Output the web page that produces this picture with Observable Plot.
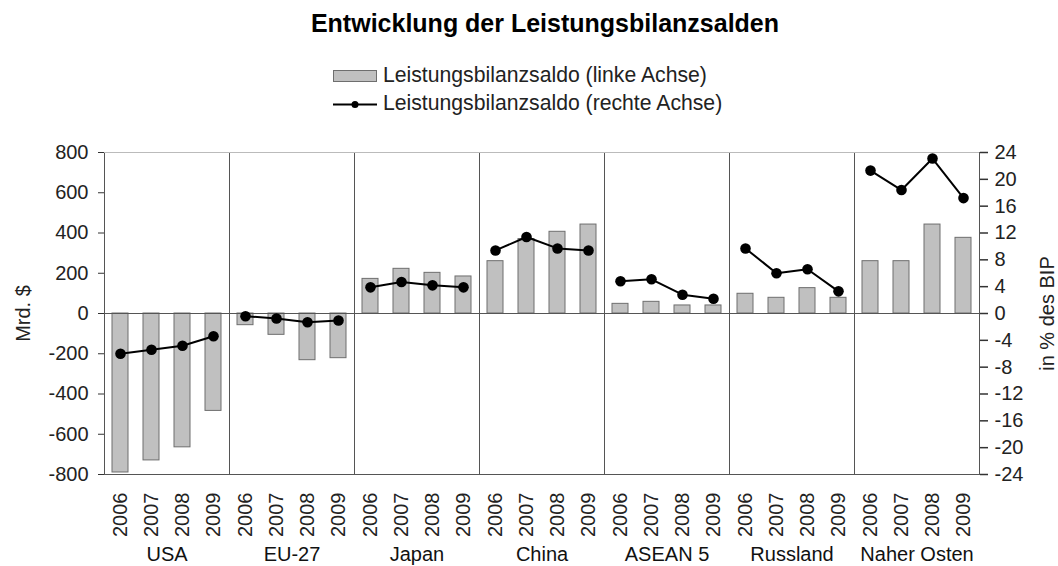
<!DOCTYPE html>
<html>
<head>
<meta charset="utf-8">
<script src="https://cdn.jsdelivr.net/npm/d3@7"></script>
<script src="https://cdn.jsdelivr.net/npm/@observablehq/plot@0.6"></script>
<style>
  html, body { margin: 0; padding: 0; background: #fff; }
  #chart { width: 1058px; font-family: "Liberation Sans", Arial, sans-serif; }
  #header { display: block; }
  #plot svg { display: block; }
</style>
</head>
<body>
<div id="chart">
  <svg id="header" width="1058" height="120" xmlns="http://www.w3.org/2000/svg" font-family="Liberation Sans, Arial, sans-serif">
    <text x="545" y="32" text-anchor="middle" font-weight="bold" font-size="25" fill="#000">Entwicklung der Leistungsbilanzsalden</text>
    <rect x="333.5" y="70.5" width="43" height="11" fill="#c0c0c0" stroke="#6e6e6e" stroke-width="1"></rect>
    <text x="383" y="82" font-size="21.2" fill="#222">Leistungsbilanzsaldo (linke Achse)</text>
    <line x1="333" x2="377" y1="104.5" y2="104.5" stroke="#000" stroke-width="2"></line>
    <circle cx="355" cy="104.5" r="3.5" fill="#000"></circle>
    <text x="383" y="110" font-size="21.2" fill="#222">Leistungsbilanzsaldo (rechte Achse)</text>
  </svg>
  <div id="plot"></div>
</div>
<script>
const countries = ["USA", "EU-27", "Japan", "China", "ASEAN 5", "Russland", "Naher Osten"];
const years = ["2006", "2007", "2008", "2009"];
// Leistungsbilanzsaldo, Mrd. $ (linke Achse)
const balanceBn = [
  [-790, -730, -665, -484],
  [-58, -106, -232, -222],
  [172, 222, 202, 184],
  [260, 370, 406, 442],
  [48, 58, 40, 40],
  [98, 78, 126, 78],
  [260, 260, 442, 376]
];
// Leistungsbilanzsaldo, in % des BIP (rechte Achse)
const pctGdp = [
  [-6.0, -5.4, -4.8, -3.4],
  [-0.4, -0.75, -1.3, -1.05],
  [3.9, 4.7, 4.2, 3.9],
  [9.4, 11.4, 9.7, 9.4],
  [4.8, 5.1, 2.8, 2.2],
  [9.7, 6.0, 6.6, 3.3],
  [21.3, 18.4, 23.1, 17.2]
];
const leftTicks = [-800, -600, -400, -200, 0, 200, 400, 600, 800];
const rightTicks = [-24, -20, -16, -12, -8, -4, 0, 4, 8, 12, 16, 20, 24];
const leftMax = 800, rightMax = 24;
const k = leftMax / rightMax;

const data = countries.flatMap((c, i) => years.map((y, j) => ({
  country: c, year: y, bn: balanceBn[i][j], pct: pctGdp[i][j]
})));

const chart = Plot.plot({
  width: 1058,
  height: 446,
  marginTop: 32,
  marginBottom: 92,
  marginLeft: 101,
  marginRight: 76,
  style: { fontFamily: "Liberation Sans, Arial, sans-serif", fontSize: "20px", color: "#333", background: "#fff" },
  fx: { domain: countries, padding: 0, label: null },
  x: { domain: years, paddingInner: 0.5, paddingOuter: 0.25, label: null },
  y: { domain: [-leftMax, leftMax], label: null },
  marks: [
    Plot.barY(data, { fx: "country", x: "year", y: "bn", fill: "#c0c0c0", stroke: "#6e6e6e", strokeWidth: 1 }),
    Plot.ruleY([0], { stroke: "#555", strokeWidth: 1 }),
    Plot.frame({ stroke: "#555", strokeWidth: 1 }),
    Plot.ruleY([leftMax], { stroke: "#bbb", strokeWidth: 1 }),
    Plot.line(data, { fx: "country", x: "year", y: d => d.pct * k, stroke: "#000", strokeWidth: 2 }),
    Plot.dot(data, { fx: "country", x: "year", y: d => d.pct * k, r: 5.3, fill: "#000", stroke: "none" }),
    Plot.axisY({
      anchor: "left", ticks: leftTicks, tickSize: 6, tickPadding: 10,
      tickFormat: d => String(d), fill: "#222",
      label: "Mrd. $", labelAnchor: "center", labelArrow: "none", labelOffset: 89
    }),
    Plot.axisY({
      anchor: "right", ticks: rightTicks.map(v => v * k), tickSize: 8, tickPadding: 7,
      tickFormat: d => String(Math.round(d / k)), fill: "#222", stroke: "#333", strokeWidth: 1.5,
      label: "in % des BIP", labelAnchor: "center", labelArrow: "none", labelOffset: 74
    }),
    Plot.axisX({ tickRotate: -90, tickSize: 0, tickPadding: 18, label: null, fill: "#222" }),
    Plot.axisFx({ anchor: "bottom", tickSize: 0, tickPadding: 72, label: null, fill: "#111" })
  ]
});
document.getElementById("plot").appendChild(chart);
</script>
</body>
</html>
